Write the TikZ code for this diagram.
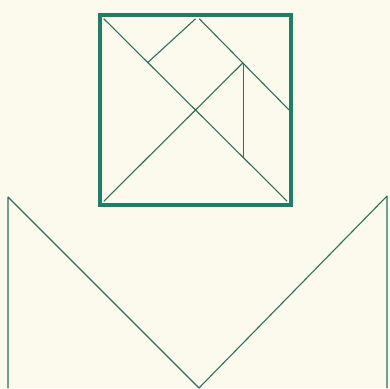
\documentclass[tikz,border=0pt]{standalone}
\definecolor{paper}{HTML}{FBFAEC}
\definecolor{frame}{HTML}{1E7E66}
\definecolor{thin}{HTML}{2E6E5E}
\begin{document}
\begin{tikzpicture}[x=0.5pt,y=-0.5pt,
  framestyle/.style={draw=frame,line width=2pt},
  piece/.style={draw=thin,line width=0.55pt,line join=round}]
\fill[paper] (0,0) rectangle (390,388);
\useasboundingbox (0,0) rectangle (390,388);
% tangram square
\coordinate (TL) at (100,15);
\coordinate (BR) at (291,205);
\draw[framestyle] (TL) rectangle (BR);
\begin{scope}[shift={(100,15)},x=95.5pt,y=-95pt]
  \coordinate (a) at (0,0);
  \coordinate (b) at (1,1);
  \coordinate (c) at (0,1);
  \coordinate (d) at (0.75,0.25);
  \coordinate (e) at (0.5,0);
  \coordinate (f) at (1,0.5);
  \coordinate (g) at (0.25,0.25);
  \coordinate (h) at (0.75,0.75);
  \draw[piece] ([shift={(0.02,0.02)}]a) -- ([shift={(-0.02,-0.02)}]b);
  \draw[piece] ([shift={(0.02,-0.02)}]c) -- (d);
  \draw[piece] (g) -- ([shift={(0,0.02)}]e);
  \draw[piece] ([shift={(0.02,0.02)}]e) -- ([shift={(-0.01,0)}]f);
  \draw[piece] (d) -- (h);
\end{scope}
% M shape
\coordinate (ml) at (8,197);
\coordinate (mr) at (387,196);
\coordinate (apex) at (199,388);
\coordinate (bl) at (8,388);
\coordinate (br) at (387,388);
\draw[piece] (bl) -- (ml) -- (apex) -- (mr) -- (br);
\end{tikzpicture}
\end{document}
